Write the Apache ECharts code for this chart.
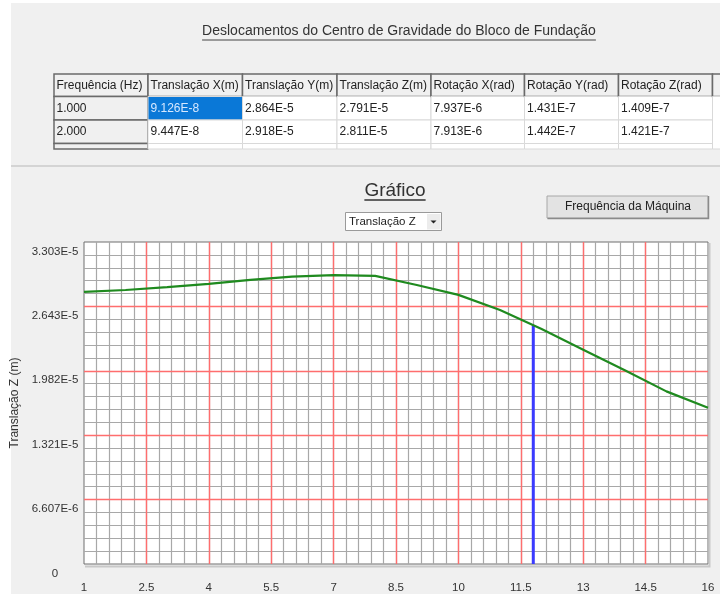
<!DOCTYPE html>
<html><head><meta charset="utf-8">
<script src="https://cdn.jsdelivr.net/npm/echarts@6/dist/echarts.min.js"></script>
<style>html,body{margin:0;padding:0;background:#fff}#c{width:720px;height:594px}</style>
</head><body><div id="c"></div>
<script>
// ---- data ----
const frequencies = [1, 2, 3, 4, 5, 6, 7, 8, 9, 10, 11, 12, 13, 14, 15, 16];
const translacaoZ = [2.791e-5, 2.811e-5, 2.840e-5, 2.874e-5, 2.915e-5, 2.948e-5, 2.963e-5, 2.956e-5,
                     2.862e-5, 2.761e-5, 2.605e-5, 2.410e-5, 2.199e-5, 1.988e-5, 1.771e-5, 1.603e-5];
const machineFrequency = 11.8;
const machineValue = 2.447e-5;
const yTickLabels = ['0', '6.607E-6', '1.321E-5', '1.982E-5', '2.643E-5', '3.303E-5'];
const xTickLabels = ['1', '2.5', '4', '5.5', '7', '8.5', '10', '11.5', '13', '14.5', '16'];
const tableHeaders = ['Frequência (Hz)', 'Translação X(m)', 'Translação Y(m)', 'Translação Z(m)',
                      'Rotação X(rad)', 'Rotação Y(rad)', 'Rotação Z(rad)'];
const tableRow1 = ['1.000', '9.126E-8', '2.864E-5', '2.791E-5', '7.937E-6', '1.431E-7', '1.409E-7'];
const tableRow2 = ['2.000', '9.447E-8', '2.918E-5', '2.811E-5', '7.913E-6', '1.442E-7', '1.421E-7'];
const pageTitle = 'Deslocamentos do Centro de Gravidade do Bloco de Fundação';
const chartTitle = 'Gráfico';
const selectorText = 'Translação Z';
const buttonText = 'Frequência da Máquina';
const yAxisName = 'Translação Z (m)';

// ---- layout helpers ----
const FONT = "'Liberation Sans', Arial, sans-serif";
const meas = document.createElement('canvas').getContext('2d');
function textWidth(t, size) { meas.font = size + 'px ' + FONT; return meas.measureText(t).width; }

const colEdges = [54, 148, 242.5, 337, 431, 524.5, 618.5, 712.5];
const rowEdges = [74, 96.5, 120, 143.5];
const rows = [tableRow1, tableRow2];
const graphics = [];
graphics.push({ type: 'rect', shape: { x: 11, y: 3, width: 709, height: 591 }, style: { fill: '#f0f0f0' }, z: -10, silent: true });
graphics.push({ type: 'line', shape: { x1: 11, y1: 166, x2: 720, y2: 166 }, style: { stroke: '#d4d4d4', lineWidth: 2 }, silent: true });
const ptw = textWidth(pageTitle, 14);
graphics.push({ type: 'text', x: 399, y: 31, style: { text: pageTitle, font: '14px ' + FONT, fill: '#333', align: 'center', verticalAlign: 'middle' } });
graphics.push({ type: 'line', shape: { x1: 399 - ptw / 2, y1: 40, x2: 399 + ptw / 2, y2: 40 }, style: { stroke: '#444', lineWidth: 1 } });
const TF = '12px ' + FONT;
for (let c = 0; c < tableHeaders.length; c++) {
  const x0 = colEdges[c], w = colEdges[c + 1] - colEdges[c];
  graphics.push({ type: 'rect', shape: { x: x0, y: rowEdges[0], width: w, height: rowEdges[1] - rowEdges[0] }, style: { fill: '#f0f0f0', stroke: '#6a6a6a', lineWidth: 1.5 } });
  graphics.push({ type: 'text', x: x0 + 2.5, y: (rowEdges[0] + rowEdges[1]) / 2, style: { text: tableHeaders[c], font: TF, fill: '#222', verticalAlign: 'middle' } });
  for (let r = 0; r < rows.length; r++) {
    const y0 = rowEdges[r + 1], h = rowEdges[r + 2] - rowEdges[r + 1];
    const first = c === 0, sel = (r === 0 && c === 1);
    graphics.push({ type: 'rect', shape: { x: x0, y: y0, width: w, height: h },
      style: { fill: sel ? '#0a78d7' : (first ? '#f0f0f0' : '#fff'), stroke: first ? '#6a6a6a' : '#d9d9d9', lineWidth: first ? 1.5 : 1 } });
    graphics.push({ type: 'text', x: x0 + 2.5, y: y0 + h / 2, style: { text: rows[r][c], font: TF, fill: sel ? '#d6e8ff' : '#222', verticalAlign: 'middle' } });
  }
  graphics.push({ type: 'rect', shape: { x: x0, y: rowEdges[3], width: w, height: 5.5 }, style: { fill: c === 0 ? '#f0f0f0' : '#fff', stroke: c === 0 ? '#6a6a6a' : '#d9d9d9', lineWidth: c === 0 ? 1.5 : 1 } });
}
graphics.push({ type: 'rect', shape: { x: 712.5, y: rowEdges[0], width: 10, height: rowEdges[1] - rowEdges[0] }, style: { fill: '#f0f0f0', stroke: '#6a6a6a', lineWidth: 1.5 } });
graphics.push({ type: 'rect', shape: { x: 712.5, y: rowEdges[1], width: 10, height: 52.5 }, style: { fill: '#fff', stroke: '#d9d9d9', lineWidth: 1 } });
const ctw = textWidth(chartTitle, 19);
graphics.push({ type: 'text', x: 395, y: 191, style: { text: chartTitle, font: '19px ' + FONT, fill: '#333', align: 'center', verticalAlign: 'middle' } });
graphics.push({ type: 'line', shape: { x1: 395 - ctw / 2, y1: 200, x2: 395 + ctw / 2, y2: 200 }, style: { stroke: '#333', lineWidth: 1.5 } });
graphics.push({ type: 'rect', shape: { x: 345.5, y: 212.5, width: 96, height: 18 }, style: { fill: '#fff', stroke: '#9a9a9a', lineWidth: 1 } });
graphics.push({ type: 'text', x: 349, y: 222, style: { text: selectorText, font: '11.5px ' + FONT, fill: '#222', verticalAlign: 'middle' } });
graphics.push({ type: 'rect', shape: { x: 427, y: 214, width: 13.5, height: 15.5 }, style: { fill: '#ececec' } });
graphics.push({ type: 'polygon', shape: { points: [[430.5, 220.5], [436.5, 220.5], [433.5, 223.5]] }, style: { fill: '#222' } });
graphics.push({ type: 'rect', shape: { x: 547, y: 196, width: 161, height: 22 }, style: { fill: '#e3e3e3', stroke: '#a8a8a8', lineWidth: 1 } });
graphics.push({ type: 'polyline', shape: { points: [[547.5, 218.5], [708.5, 218.5], [708.5, 196]] }, style: { stroke: '#8a8a8a', lineWidth: 1.5 } });
graphics.push({ type: 'text', x: 628, y: 207, style: { text: buttonText, font: '12px ' + FONT, fill: '#222', align: 'center', verticalAlign: 'middle' } });
graphics.push({ type: 'polyline', shape: { points: [[85, 566.5], [709.5, 566.5], [709.5, 243]] }, style: { stroke: '#c8c8c8', lineWidth: 2 } });

const Y_INTERVAL = 6.6066e-6;
const X_MIN = 1, X_MAX = 16, X_MAJOR = 1.5, X_MINOR = 0.3;
const gridLineRed = { color: '#ff6e6e', width: 1.4 };
const gridLineGray = { color: '#a8a8a8', width: 1.2 };
const hidden = { axisLine: { show: false }, axisTick: { show: false }, axisLabel: { show: false } };
const chart = echarts.init(document.getElementById('c'), null, { renderer: 'canvas' });
chart.setOption({
  animation: false,
  backgroundColor: '#fff',
  textStyle: { fontFamily: FONT },
  graphic: graphics,
  grid: { left: 84, top: 242, width: 624, height: 323, show: true, backgroundColor: '#fff', borderColor: '#6e6e6e', borderWidth: 1, containLabel: false },
  xAxis: [{
    type: 'value', min: X_MIN, max: X_MAX, interval: X_MAJOR, z: 3,
    axisLine: { show: false }, axisTick: { show: false },
    axisLabel: { color: '#333', fontSize: 11.5, margin: 18, showMinLabel: true, showMaxLabel: true,
      formatter: v => { const i = Math.round((v - X_MIN) / X_MAJOR); return xTickLabels[i] !== undefined ? xTickLabels[i] : ''; } },
    splitLine: { show: true, showMinLine: false, showMaxLine: false, lineStyle: gridLineRed }
  }, Object.assign({
    type: 'value', min: X_MIN, max: X_MAX, interval: X_MINOR, z: 1, position: 'bottom',
    splitLine: { show: true, showMinLine: false, showMaxLine: false, lineStyle: gridLineGray }
  }, hidden)],
  yAxis: [{
    type: 'value', min: 0, max: Y_INTERVAL * 5, interval: Y_INTERVAL, z: 3,
    name: yAxisName, nameLocation: 'middle', nameGap: 58, nameRotate: 90,
    nameTextStyle: { color: '#333', fontSize: 12 },
    axisLine: { show: false }, axisTick: { show: false },
    axisLabel: { color: '#333', fontSize: 11.5, align: 'center', margin: 29, verticalAlign: 'top', lineHeight: 19,
      showMinLabel: true, showMaxLabel: true,
      formatter: v => { const i = Math.round(v / Y_INTERVAL); return yTickLabels[i] !== undefined ? yTickLabels[i] : ''; } },
    splitLine: { show: true, showMinLine: false, showMaxLine: false, lineStyle: gridLineRed }
  }, Object.assign({
    type: 'value', min: 0, max: Y_INTERVAL * 5, interval: Y_INTERVAL / 5, z: 1, position: 'left',
    splitLine: { show: true, showMinLine: false, showMaxLine: false, lineStyle: gridLineGray }
  }, hidden)],
  series: [
    { type: 'line', xAxisIndex: 0, yAxisIndex: 0, data: frequencies.map((f, i) => [f, translacaoZ[i]]), symbol: 'none', smooth: false,
      lineStyle: { color: '#1f8a1f', width: 2.2 }, z: 5 },
    { type: 'line', xAxisIndex: 0, yAxisIndex: 0, data: [[machineFrequency, 0], [machineFrequency, machineValue]], symbol: 'none',
      lineStyle: { color: '#3b3bff', width: 3 }, z: 4 }
  ]
});
</script></body></html>
